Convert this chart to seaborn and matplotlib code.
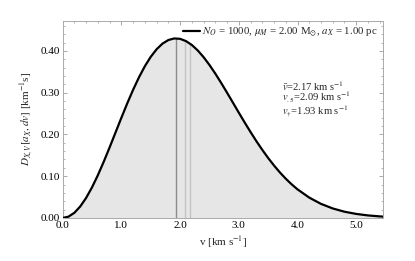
import numpy as np
import pandas as pd
import matplotlib
matplotlib.use("Agg")
import matplotlib.pyplot as plt
from matplotlib.ticker import MultipleLocator
import seaborn as sns

# Data
v_kms = [0.0, 0.1, 0.2, 0.3, 0.4, 0.5, 0.6, 0.7, 0.8, 0.9, 1.0, 1.1, 1.2, 1.3,
         1.4, 1.5, 1.6, 1.7, 1.8, 1.9, 2.0, 2.1, 2.2, 2.3, 2.4, 2.5, 2.6, 2.7,
         2.8, 2.9, 3.0, 3.1, 3.2, 3.3, 3.4, 3.5, 3.6, 3.7, 3.8, 3.9, 4.0, 4.2,
         4.4, 4.6, 4.8, 5.0, 5.2, 5.4, 5.5]
density = [0.0, 0.0031, 0.0124, 0.0276, 0.0481, 0.0733, 0.1025, 0.1348, 0.1691,
           0.2045, 0.2399, 0.2744, 0.3070, 0.3369, 0.3634, 0.3859, 0.4040,
           0.4175, 0.4261, 0.4299, 0.4290, 0.4236, 0.4143, 0.4013, 0.3852,
           0.3665, 0.3457, 0.3234, 0.3000, 0.2762, 0.2522, 0.2287, 0.2058,
           0.1838, 0.1631, 0.1436, 0.1256, 0.1090, 0.0940, 0.0805, 0.0685,
           0.0487, 0.0337, 0.0227, 0.0149, 0.0096, 0.0060, 0.0037, 0.0028]
stat_names = ["mean", "median", "mode"]
stat_values = [2.17, 2.09, 1.93]
stat_colors = ["#c4c4c4", "#c4c4c4", "#8c8c8c"]
stat_labels = [r"$\bar{v}$=2.17 km s$^{-1}$",
               r"$v_{.5}$=2.09 km s$^{-1}$",
               r"$v_{\dagger}$=1.93 km s$^{-1}$"]
legend_label = (r"$N_O$ = 1000, $\mu_M$ = 2.00 M$_{\odot}$, "
                r"$a_X$ = 1.00 pc")

df = pd.DataFrame({"v": v_kms, "D": density})

sns.set_theme(style="white")
plt.rcParams["font.family"] = ["Liberation Serif", "DejaVu Serif"]
plt.rcParams["mathtext.fontset"] = "stix"

fig = plt.figure(figsize=(4.15, 2.61), dpi=100)
ax = fig.add_axes([0.151, 0.165, 0.771, 0.755])

ax.fill_between(df["v"], 0, df["D"], color="#e6e6e6", linewidth=0, zorder=1)
for val, col in zip(stat_values, stat_colors):
    h = np.interp(val, df["v"], df["D"])
    ax.plot([val, val], [0, h], color=col, lw=1.0, zorder=2)
sns.lineplot(data=df, x="v", y="D", ax=ax, color="black", lw=1.6,
             label=legend_label, zorder=3)

ax.set_xlim(0, 5.45)
ax.set_ylim(0, 0.472)
ax.xaxis.set_major_locator(MultipleLocator(1.0))
ax.xaxis.set_minor_locator(MultipleLocator(0.2))
ax.yaxis.set_major_locator(MultipleLocator(0.1))
ax.yaxis.set_minor_locator(MultipleLocator(0.02))
ax.xaxis.set_major_formatter(matplotlib.ticker.FormatStrFormatter("%.1f"))
ax.yaxis.set_major_formatter(matplotlib.ticker.FormatStrFormatter("%.2f"))
ax.tick_params(which="both", direction="in", top=True, right=True,
               bottom=True, left=True, color="#999999", labelsize=8,
               labelcolor="black", pad=2)
ax.tick_params(which="major", length=3.2, width=0.6)
ax.tick_params(which="minor", length=1.6, width=0.5)
for s in ax.spines.values():
    s.set_color("#aaaaaa")
    s.set_linewidth(0.7)

ax.set_xlabel(r"v [km s$^{-1}$]", fontsize=8, labelpad=3)
ax.set_ylabel(r"$D_{X,V}[a_X, dv]$ [km$^{-1}$s]", fontsize=8, labelpad=4)

leg = ax.legend(loc="upper right", frameon=False, fontsize=7.8,
                handlelength=1.5, handletextpad=0.25, borderaxespad=0.25,
                borderpad=0.2)

ax.text(0.685, 0.604, "\n".join(stat_labels), transform=ax.transAxes,
        fontsize=7.6, va="center", ha="left", linespacing=0.78)

fig.savefig("out.png", dpi=100)
